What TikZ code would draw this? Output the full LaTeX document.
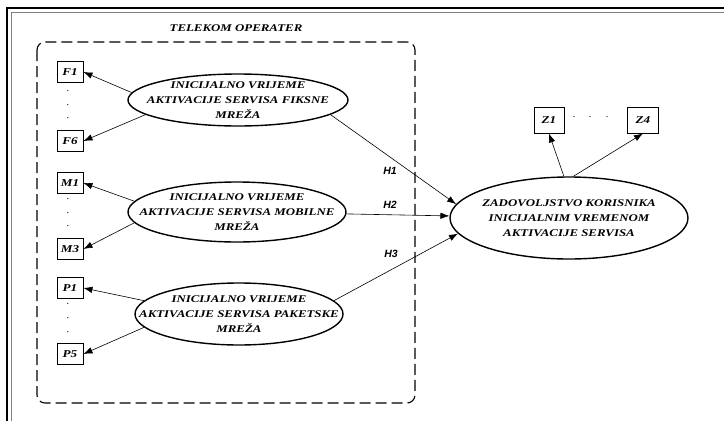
\documentclass[tikz,border=0pt]{standalone}
\usepackage{fontspec}
\setmainfont{Liberation Serif}
\newfontfamily\wfont[FakeStretch=1.25]{Liberation Serif}
\newfontfamily\hfont{Liberation Sans}
\usetikzlibrary{shapes.geometric,arrows.meta}
\tikzset{
  ind/.style={draw,line width=0.9pt,minimum width=26pt,minimum height=21pt,inner sep=0pt,font=\wfont\bfseries\itshape\fontsize{10.5}{10}\selectfont},
  lat/.style={draw,ellipse,line width=1.4pt,inner sep=0pt},
  lattext/.style={inner sep=0pt,align=center,font=\wfont\bfseries\itshape\fontsize{10.3}{15}\selectfont},
  arr/.style={line width=0.6pt,-{Latex[length=9pt,width=6.5pt]}},
  hl/.style={font=\hfont\bfseries\itshape\fontsize{10.5}{12}\selectfont},
  dotn/.style={inner sep=0pt,font=\fontsize{10}{10}\selectfont}
}
\begin{document}
\begin{tikzpicture}[x=1pt,y=-1pt]
\useasboundingbox (0,0) rectangle (724,421);
\fill[white] (0,0) rectangle (724,421);
% frame
\draw[line width=1.2pt] (7,421) -- (7,8) -- (724,8);
\draw[line width=0.8pt,gray] (11,421) -- (11,12) -- (724,12);
% dashed group
\draw[line width=1.1pt,dash pattern=on 11pt off 5pt,rounded corners=8pt] (37,42) rectangle (415,403);
\node[font=\wfont\bfseries\itshape\fontsize{10.3}{11}\selectfont] (title) at (236,28) {TELEKOM OPERATER};
% indicator boxes
\node[ind] (F1) at (70,72) {F1};
\node[ind] (F6) at (70,141) {F6};
\node[ind] (M1) at (70,183) {M1};
\node[ind] (M3) at (70,249) {M3};
\node[ind] (P1) at (70,288) {P1};
\node[ind] (P5) at (70,354) {P5};
\foreach \y/\n in {91/a,105/b,118/c}{\node[dotn] (fd\n) at (68,\y) {.};}
\foreach \y/\n in {199/a,213/b,226/c}{\node[dotn] (md\n) at (68,\y) {.};}
\foreach \y/\n in {304/a,318/b,332/c}{\node[dotn] (pd\n) at (68,\y) {.};}
% latent ellipses
\node[lat,minimum width=220pt,minimum height=52pt] (E1) at (238,100) {};
\node[lattext] (E1t) at (E1) {INICIJALNO VRIJEME\\AKTIVACIJE SERVISA FIKSNE\\MREŽA};
\node[lat,minimum width=218pt,minimum height=60pt] (E2) at (237,212) {};
\node[lattext] (E2t) at (E2) {INICIJALNO VRIJEME\\AKTIVACIJE SERVISA MOBILNE\\MREŽA};
\node[lat,minimum width=208pt,minimum height=62pt] (E3) at (239,314) {};
\node[lattext] (E3t) at (E3) {INICIJALNO VRIJEME\\AKTIVACIJE SERVISA PAKETSKE\\MREŽA};
\node[lat,minimum width=238pt,minimum height=82pt] (T) at (569,218) {};
\node[lattext] (Tt) at (T) {ZADOVOLJSTVO KORISNIKA\\INICIJALNIM VREMENOM\\AKTIVACIJE SERVISA};
% Z boxes
\node[ind,minimum width=30pt,minimum height=26pt] (Z1) at (549,120) {Z1};
\node[ind,minimum width=31pt,minimum height=26pt] (Z4) at (643,120) {Z4};
\foreach \x/\n in {574/a,590/b,607/c}{\node[dotn] (zd\n) at (\x,117) {.};}
% arrows to indicators
\draw[arr] (E1.176) -- (F1.east);
\draw[arr] (E1.189) -- (F6.east);
\draw[arr] (E2.174) -- (M1.east);
\draw[arr] (E2.186) -- (M3.east);
\draw[arr] (E3.172) -- (P1.east);
\draw[arr] (E3.188) -- (P5.east);
\draw[arr] (T.97) -- (Z1.south);
\draw[arr] (T.84) -- (Z4.south);
% hypotheses
\draw[arr] (E1.-9) -- (T.173);
\draw[arr] (E2.-1) -- (T.179);
\draw[arr] (E3.8) -- (T.188);
\node[hl] (H1) at (390,171) {H1};
\node[hl] (H2) at (390,205) {H2};
\node[hl] (H3) at (391,254) {H3};
\end{tikzpicture}
\end{document}
